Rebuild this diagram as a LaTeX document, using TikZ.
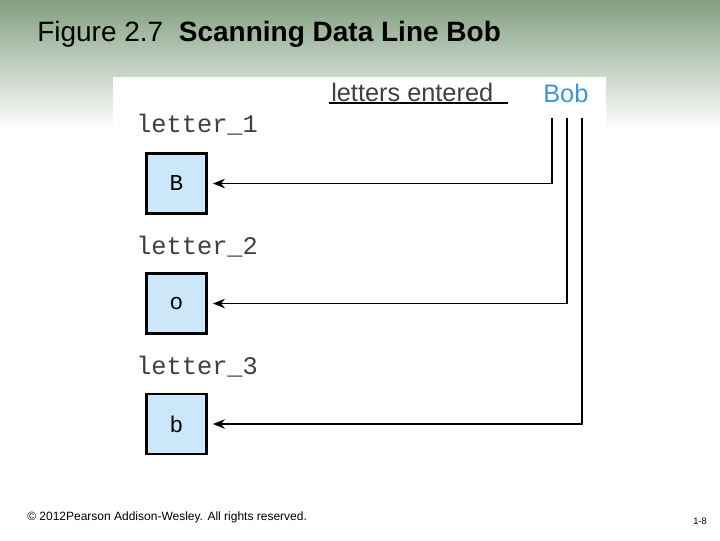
\documentclass[tikz,border=0pt]{standalone}
\usepackage{fontspec}
\setmainfont{Liberation Sans}
\setmonofont{Liberation Mono}
\usetikzlibrary{positioning,arrows.meta}
\definecolor{banner}{RGB}{130,160,128}
\definecolor{cellblue}{RGB}{204,230,250}
\definecolor{bobblue}{RGB}{60,150,215}
\tikzset{
  cell/.style={draw,line width=1.6pt,fill=cellblue,minimum width=45pt,minimum height=45pt,font=\ttfamily\fontsize{17}{17}\selectfont},
  varname/.style={anchor=west,inner sep=0.75pt,font=\ttfamily\fontsize{19}{19}\selectfont,text=black!75},
  feed/.style={line width=1.2pt,-{Stealth[length=9pt,width=7pt]}}
}
\begin{document}
\begin{tikzpicture}[x=0.75pt,y=0.75pt,yscale=-1,xscale=1]
\useasboundingbox (0,0) rectangle (720,540);
% background banner
\shade[top color=banner,bottom color=white] (0,0) rectangle (720,130);
\fill[white] (0,130) rectangle (720,540);
% figure panel
\fill[white] (113,77) rectangle (606,460);
% title
\node[anchor=west,inner sep=0pt,font=\fontsize{21}{21}\selectfont] (title) at (37,34) {Figure 2.7\ \ \textbf{Scanning Data Line Bob}};
% header
\node[anchor=west,inner sep=0.75pt,font=\fontsize{19}{19}\selectfont,text=black!75] (entered) at (330,92) {letters entered};
\coordinate (ul1) at (329,103);
\coordinate (ul2) at (508,103);
\draw[line width=0.9pt] (ul1) -- (ul2);
\node[anchor=west,inner sep=0.75pt,font=\fontsize{19}{19}\selectfont,text=bobblue] (bob) at (542,93) {Bob};
% cells
\node[varname] (name1) at (135,125) {letter\_1};
\node[cell] (c1) at (176.5,183.5) {B};
\node[varname] (name2) at (135,247) {letter\_2};
\node[cell] (c2) at (176.5,303.5) {o};
\node[varname] (name3) at (135,367) {letter\_3};
\node[cell] (c3) at (176.5,424) {b};
% connectors
\coordinate (t1) at (552,118);
\coordinate (t2) at (567,118);
\coordinate (t3) at (582,118);
\draw[feed] (t1) |- ([xshift=4pt]c1.east);
\draw[feed] (t2) |- ([xshift=4pt]c2.east);
\draw[feed] (t3) |- ([xshift=4pt]c3.east);
% footer
\node[anchor=west,inner sep=0pt,font=\fontsize{9}{9}\selectfont] (copy) at (27,517) {\textcopyright\ 2012Pearson Addison-Wesley. All rights reserved.};
\node[anchor=east,inner sep=0pt,font=\fontsize{7}{7}\selectfont] (page) at (707,521) {1-8};
\end{tikzpicture}
\end{document}
